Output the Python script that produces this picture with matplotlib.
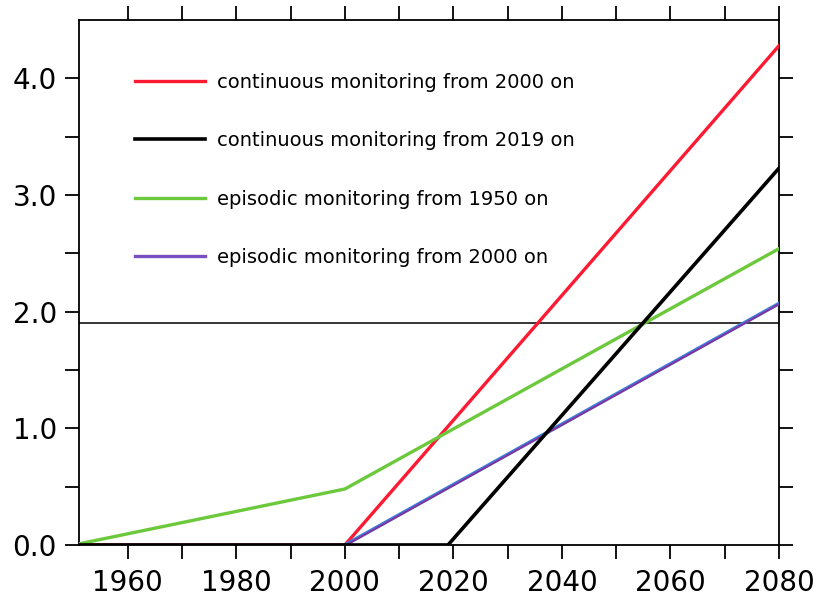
import numpy as np
import matplotlib
matplotlib.use("Agg")
import matplotlib.pyplot as plt
import matplotlib.transforms as mtransforms
from matplotlib.lines import Line2D

# data
cont2000_x = [1950, 2000, 2080]
cont2000_y = [0.0, 0.0, 4.28]
cont2019_x = [1950, 2019, 2080]
cont2019_y = [0.0, 0.0, 3.23]
epi1950_x = [1950, 2000, 2080]
epi1950_y = [0.0, 0.48, 2.54]
epi2000_x = [2000, 2080]
epi2000_y = [0.0, 2.07]
threshold = 1.9

labels = ["continuous monitoring from 2000 on",
          "continuous monitoring from 2019 on",
          "episodic monitoring from 1950 on",
          "episodic monitoring from 2000 on"]

xticks_major = np.arange(1960, 2081, 20)
yticks_major = [0.0, 1.0, 2.0, 3.0, 4.0]


def main():
    fig = plt.figure(figsize=(8.13, 5.99), dpi=100)
    ax = fig.add_axes([0.0972, 0.0902, 0.861, 0.8764])

    red, = ax.plot(cont2000_x, cont2000_y, color="#ff1a33", lw=2.4, zorder=3)
    green, = ax.plot(epi1950_x, epi1950_y, color="#6cc93c", lw=2.4, zorder=3)
    ax.plot(epi2000_x, epi2000_y, color="#3d7fd8", lw=2.6, zorder=3)
    # purple half of the two-tone line, nudged down a little
    off = mtransforms.offset_copy(ax.transData, fig=fig, x=0, y=-0.5, units="points")
    ax.plot(epi2000_x, epi2000_y, color="#8a2e9e", lw=1.3, zorder=3.1, transform=off)
    black, = ax.plot(cont2019_x, cont2019_y, color="black", lw=2.6, zorder=4)
    ax.axhline(threshold, color="black", lw=1.1, zorder=2)

    # legend handle for the two-tone line
    blue_h = Line2D([], [], color="#7a4fbf", lw=2.4)

    ax.legend([red, black, green, blue_h], labels, loc="upper left",
              bbox_to_anchor=(0.055, 0.933), frameon=False, fontsize=14,
              handlelength=3.6, handletextpad=0.6, labelspacing=2.03)

    ax.set_xlim(1951, 2080)
    ax.set_ylim(0, 4.5)
    ax.set_xticks(xticks_major)
    ax.set_xticks(np.arange(1960, 2081, 10), minor=True)
    ax.set_yticks(yticks_major)
    ax.set_yticks(np.arange(0.5, 4.5, 1.0), minor=True)
    ax.set_yticklabels(["%.1f" % v for v in yticks_major])

    ax.tick_params(which="both", direction="out", top=True, right=True,
                   width=1.3, labelsize=20, length=10, pad=6)
    ax.tick_params(axis="x", pad=7)
    for s in ax.spines.values():
        s.set_linewidth(1.3)

    fig.savefig("out.png", dpi=100)


if __name__ == '__main__':
    main()
